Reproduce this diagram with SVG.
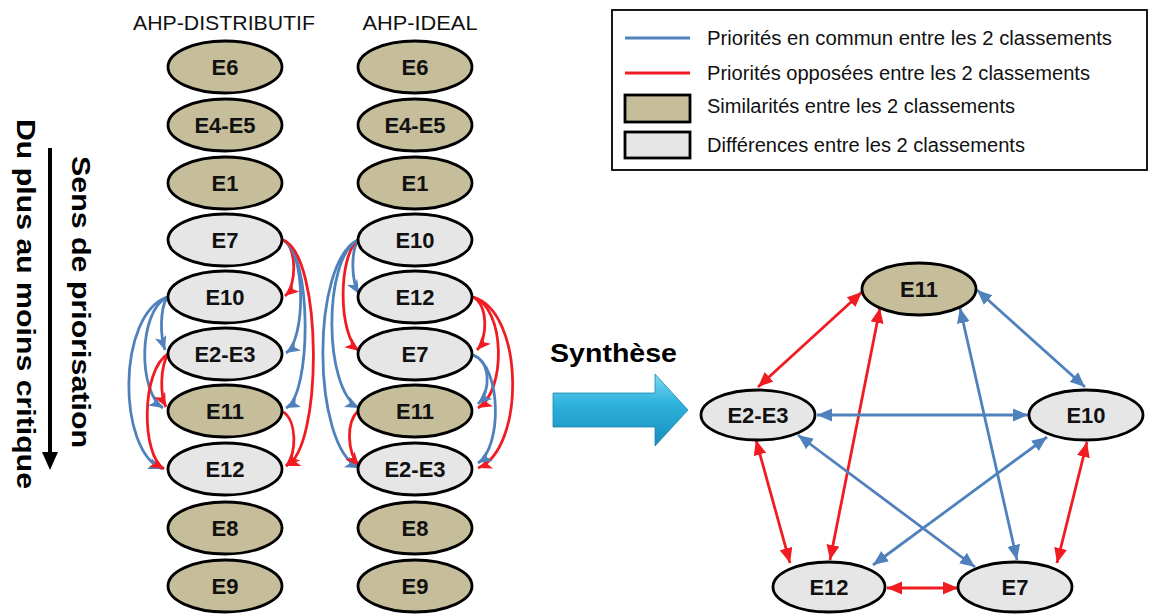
<svg xmlns="http://www.w3.org/2000/svg" width="1151" height="615" viewBox="0 0 1151 615">
<style>
.sim{fill:#C6BE9A;stroke:#000;stroke-width:2.8}
.dif{fill:#E6E6E6;stroke:#000;stroke-width:2.8}
.lbl{font-family:"Liberation Sans",Arial,sans-serif;font-weight:bold;font-size:22px;text-anchor:middle;fill:#111}
.hdr{font-family:"Liberation Sans",Arial,sans-serif;font-size:21px;text-anchor:middle;fill:#111}
.leg{font-family:"Liberation Sans",Arial,sans-serif;font-size:19.5px;fill:#111}
.side{font-family:"Liberation Sans",Arial,sans-serif;font-weight:bold;font-size:26px;fill:#000}
.cb{fill:none;stroke:#4F81BD;stroke-width:2.8;marker-end:url(#hb)}
.cr{fill:none;stroke:#F01C22;stroke-width:2.8;marker-end:url(#hr)}
.gb{stroke:#4F81BD;stroke-width:2.8;marker-start:url(#gbm);marker-end:url(#gbm)}
.gr{stroke:#F01C22;stroke-width:2.8;marker-start:url(#grm);marker-end:url(#grm)}
</style>
<defs>
<marker id="hb" markerUnits="userSpaceOnUse" markerWidth="15" markerHeight="13" refX="14" refY="6" orient="auto" viewBox="0 0 15 13"><path d="M0,0 L14,6 L0,12 L3.5,6 z" fill="#4F81BD"/></marker>
<marker id="hr" markerUnits="userSpaceOnUse" markerWidth="15" markerHeight="13" refX="14" refY="6" orient="auto" viewBox="0 0 15 13"><path d="M0,0 L14,6 L0,12 L3.5,6 z" fill="#F01C22"/></marker>
<marker id="gbm" markerUnits="userSpaceOnUse" markerWidth="16" markerHeight="14" refX="15" refY="6.5" orient="auto-start-reverse" viewBox="0 0 16 14"><path d="M0,0 L15,6.5 L0,13 z" fill="#4F81BD"/></marker>
<marker id="grm" markerUnits="userSpaceOnUse" markerWidth="16" markerHeight="14" refX="15" refY="6.5" orient="auto-start-reverse" viewBox="0 0 16 14"><path d="M0,0 L15,6.5 L0,13 z" fill="#F01C22"/></marker>
<linearGradient id="ag" x1="0" y1="0" x2="0" y2="1">
<stop offset="0" stop-color="#7FD8F2"/>
<stop offset="0.4" stop-color="#2EB3DD"/>
<stop offset="1" stop-color="#168DBB"/>
</linearGradient>
</defs>
<rect width="1151" height="615" fill="#fff"/>

<g id="side-labels">
<line x1="50" y1="148" x2="50" y2="455" stroke="#000" stroke-width="4"/>
<polygon points="42,452 58,452 50,470" fill="#000"/>
<text class="side" transform="translate(72,156) rotate(90)" textLength="292" lengthAdjust="spacingAndGlyphs">Sens de priorisation</text>
<text class="side" transform="translate(17,119) rotate(90)" textLength="370" lengthAdjust="spacingAndGlyphs">Du plus au moins critique</text>
</g>

<g id="headers">
<text class="hdr" x="224" y="30" textLength="182" lengthAdjust="spacingAndGlyphs">AHP-DISTRIBUTIF</text>
<text class="hdr" x="420" y="30" textLength="115" lengthAdjust="spacingAndGlyphs">AHP-IDEAL</text>
</g>

<g id="connectors">
<!-- left column, right side -->
<path class="cr" d="M283,240 C297,246 297,286 285,296"/>
<path class="cb" d="M283,240 C306,250 306,340 286,353"/>
<path class="cb" d="M283,240 C312,252 312,395 286,408"/>
<path class="cr" d="M283,240 C323,255 323,450 286,466"/>
<path class="cr" d="M283,412 C297,420 297,455 286,466"/>
<!-- left column, left side -->
<path class="cb" d="M167,297 C160,310 160,335 165,350"/>
<path class="cb" d="M167,297 C138,312 138,392 163,408"/>
<path class="cb" d="M167,297 C117,315 117,450 162,469"/>
<path class="cr" d="M168,354 C160,368 160,395 166,407"/>
<path class="cr" d="M168,354 C141,370 141,455 164,469"/>
<!-- right column, left side -->
<path class="cb" d="M358,240 C351,252 351,280 359,294"/>
<path class="cr" d="M358,240 C338,256 338,335 359,351"/>
<path class="cb" d="M358,240 C323,258 323,390 359,408"/>
<path class="cb" d="M358,240 C311,262 311,445 359,468"/>
<path class="cr" d="M358,411 C346,422 347,452 359,466"/>
<!-- right column, right side -->
<path class="cr" d="M473,297 C488,305 488,338 477,350"/>
<path class="cr" d="M473,297 C506,308 506,392 478,408"/>
<path class="cr" d="M473,297 C525,312 525,450 478,468"/>
<path class="cb" d="M473,355 C491,362 491,392 478,404"/>
<path class="cb" d="M473,355 C502,366 502,448 478,463"/>
<!-- synthesis graph -->
<line class="gr" x1="862" y1="292" x2="758" y2="387"/>
<line class="gr" x1="880" y1="308" x2="830" y2="560"/>
<line class="gr" x1="756" y1="440" x2="790" y2="563"/>
<line class="gr" x1="887" y1="588" x2="958" y2="588"/>
<line class="gr" x1="1087" y1="442" x2="1057" y2="563"/>
<line class="gb" x1="977" y1="290" x2="1085" y2="387"/>
<line class="gb" x1="960" y1="308" x2="1017" y2="560"/>
<line class="gb" x1="817" y1="415" x2="1028" y2="415"/>
<line class="gb" x1="798" y1="435" x2="975" y2="567"/>
<line class="gb" x1="1047" y1="437" x2="873" y2="565"/>
</g>

<g id="col-distributif">
<g id="d-E6"><ellipse class="sim" cx="225" cy="67" rx="57" ry="26"/><text class="lbl" x="225" y="75">E6</text></g>
<g id="d-E4-E5"><ellipse class="sim" cx="225" cy="125" rx="57" ry="26"/><text class="lbl" x="225" y="133">E4-E5</text></g>
<g id="d-E1"><ellipse class="sim" cx="225" cy="183" rx="57" ry="26"/><text class="lbl" x="225" y="191">E1</text></g>
<g id="d-E7"><ellipse class="dif" cx="225" cy="240" rx="57" ry="26"/><text class="lbl" x="225" y="248">E7</text></g>
<g id="d-E10"><ellipse class="dif" cx="225" cy="297" rx="57" ry="26"/><text class="lbl" x="225" y="305">E10</text></g>
<g id="d-E2-E3"><ellipse class="dif" cx="225" cy="354" rx="57" ry="26"/><text class="lbl" x="225" y="362">E2-E3</text></g>
<g id="d-E11"><ellipse class="sim" cx="225" cy="411" rx="57" ry="26"/><text class="lbl" x="225" y="419">E11</text></g>
<g id="d-E12"><ellipse class="dif" cx="225" cy="469" rx="57" ry="26"/><text class="lbl" x="225" y="477">E12</text></g>
<g id="d-E8"><ellipse class="sim" cx="225" cy="528" rx="57" ry="26"/><text class="lbl" x="225" y="536">E8</text></g>
<g id="d-E9"><ellipse class="sim" cx="225" cy="586" rx="57" ry="26"/><text class="lbl" x="225" y="594">E9</text></g>
</g>

<g id="col-ideal">
<g id="i-E6"><ellipse class="sim" cx="415" cy="67" rx="57" ry="26"/><text class="lbl" x="415" y="75">E6</text></g>
<g id="i-E4-E5"><ellipse class="sim" cx="415" cy="125" rx="57" ry="26"/><text class="lbl" x="415" y="133">E4-E5</text></g>
<g id="i-E1"><ellipse class="sim" cx="415" cy="183" rx="57" ry="26"/><text class="lbl" x="415" y="191">E1</text></g>
<g id="i-E10"><ellipse class="dif" cx="415" cy="240" rx="57" ry="26"/><text class="lbl" x="415" y="248">E10</text></g>
<g id="i-E12"><ellipse class="dif" cx="415" cy="297" rx="57" ry="26"/><text class="lbl" x="415" y="305">E12</text></g>
<g id="i-E7"><ellipse class="dif" cx="415" cy="354" rx="57" ry="26"/><text class="lbl" x="415" y="362">E7</text></g>
<g id="i-E11"><ellipse class="sim" cx="415" cy="411" rx="57" ry="26"/><text class="lbl" x="415" y="419">E11</text></g>
<g id="i-E2-E3"><ellipse class="dif" cx="415" cy="469" rx="57" ry="26"/><text class="lbl" x="415" y="477">E2-E3</text></g>
<g id="i-E8"><ellipse class="sim" cx="415" cy="528" rx="57" ry="26"/><text class="lbl" x="415" y="536">E8</text></g>
<g id="i-E9"><ellipse class="sim" cx="415" cy="586" rx="57" ry="26"/><text class="lbl" x="415" y="594">E9</text></g>
</g>

<g id="synthese">
<text x="550" y="362" font-family="'Liberation Sans',Arial,sans-serif" font-weight="bold" font-size="26" textLength="127" lengthAdjust="spacingAndGlyphs">Synthèse</text>
<polygon points="553,393 655,393 655,374 688,410 655,446 655,427 553,427" fill="url(#ag)" stroke="#1A86AE" stroke-width="0.8"/>
</g>

<g id="graph-nodes">
<g id="g-E11"><ellipse class="sim" cx="919" cy="289" rx="57" ry="26"/><text class="lbl" x="919" y="297">E11</text></g>
<g id="g-E2-E3"><ellipse class="dif" cx="758" cy="415" rx="57" ry="25"/><text class="lbl" x="758" y="423">E2-E3</text></g>
<g id="g-E10"><ellipse class="dif" cx="1086" cy="415" rx="57" ry="25"/><text class="lbl" x="1086" y="423">E10</text></g>
<g id="g-E12"><ellipse class="dif" cx="829" cy="587" rx="56" ry="25"/><text class="lbl" x="829" y="595">E12</text></g>
<g id="g-E7"><ellipse class="dif" cx="1015" cy="587" rx="57" ry="25"/><text class="lbl" x="1015" y="595">E7</text></g>
</g>

<g id="legend">
<rect x="612" y="10" width="535" height="160" fill="#fff" stroke="#000" stroke-width="1.8"/>
<line x1="625" y1="38" x2="690" y2="38" stroke="#4F81BD" stroke-width="3"/>
<line x1="625" y1="73" x2="690" y2="73" stroke="#F01C22" stroke-width="3"/>
<rect class="sim" x="625" y="95" width="65" height="27"/>
<rect class="dif" x="625" y="132" width="65" height="26"/>
<text class="leg" x="707" y="45" textLength="405" lengthAdjust="spacingAndGlyphs">Priorités en commun entre les 2 classements</text>
<text class="leg" x="707" y="80" textLength="383" lengthAdjust="spacingAndGlyphs">Priorités opposées entre les 2 classements</text>
<text class="leg" x="707" y="113" textLength="308" lengthAdjust="spacingAndGlyphs">Similarités entre les 2 classements</text>
<text class="leg" x="707" y="152" textLength="318" lengthAdjust="spacingAndGlyphs">Différences entre les 2 classements</text>
</g>
</svg>
